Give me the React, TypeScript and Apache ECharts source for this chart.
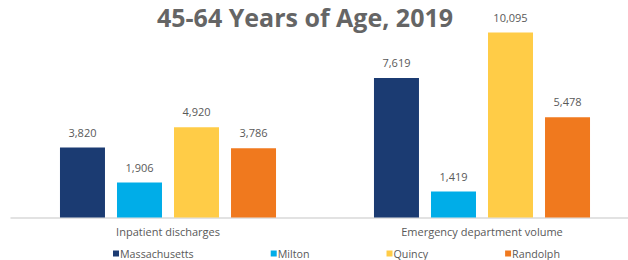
import React, { useEffect, useRef } from "react";
import * as echarts from "echarts";

const categories = ["Inpatient discharges", "Emergency department volume"];
const seriesNames = ["Massachusetts", "Milton", "Quincy", "Randolph"];
const massachusetts = [3820, 7619];
const milton = [1906, 1419];
const quincy = [4920, 10095];
const randolph = [3786, 5478];
const colors = ["#1B3B72", "#00ADE8", "#FFCC47", "#F0791E"];
const titleText = "45-64 Years of Age, 2019";

const FONT = "'Open Sans', 'Liberation Sans', sans-serif";

export default function App() {
  const ref = useRef<HTMLDivElement>(null);
  useEffect(() => {
    if (!ref.current) return;
    const chart = echarts.init(ref.current, null, { renderer: "svg" });
    const values = [massachusetts, milton, quincy, randolph];
    chart.setOption({
      animation: false,
      title: {
        text: titleText,
        left: 305,
        textAlign: "center",
        top: 4,
        padding: 0,
        textStyle: { fontFamily: FONT, fontSize: 25, fontWeight: "bold", color: "#656565" },
      },
      legend: {
        data: seriesNames,
        left: 113,
        top: 248,
        padding: 0,
        itemGap: 77,
        itemWidth: 6,
        itemHeight: 6,
        icon: "rect",
        textStyle: { fontFamily: FONT, fontSize: 10.7, color: "#595959", padding: [0, 0, 0, -4] },
      },
      grid: { left: 11, width: 628, top: 16, bottom: 42.5, containLabel: false },
      xAxis: {
        type: "category",
        data: categories,
        axisLine: { lineStyle: { color: "#D9D9D9", width: 1.5 } },
        axisTick: { show: false },
        axisLabel: { margin: 8, fontFamily: FONT, fontSize: 11, color: "#595959" },
      },
      yAxis: {
        type: "value",
        min: 0,
        max: 11000,
        show: false,
        splitLine: { show: false },
      },
      series: seriesNames.map((name, i) => ({
        name,
        type: "bar",
        data: values[i],
        barWidth: 45,
        barGap: "26.7%",
        itemStyle: { color: colors[i] },
        label: {
          show: true,
          position: "top",
          distance: 10,
          fontFamily: FONT,
          fontSize: 11,
          color: "#595959",
          formatter: (p: any) => Number(p.value).toLocaleString("en-US"),
        },
      })),
    });
    return () => chart.dispose();
  }, []);
  return (
    <div style={{ width: 628, height: 260, position: "absolute", left: 0, top: 0, overflow: "hidden" }}>
      <div ref={ref} style={{ width: 660, height: 260 }} />
    </div>
  );
}
